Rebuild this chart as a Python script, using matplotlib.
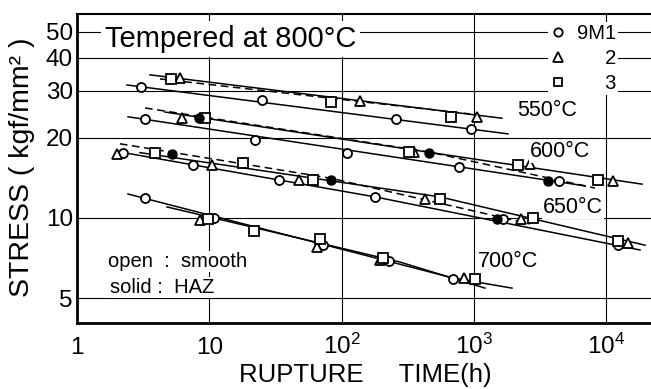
import matplotlib
matplotlib.use("Agg")
import matplotlib.pyplot as plt
from matplotlib.ticker import NullLocator

plt.rcParams['font.family'] = ['Liberation Sans', 'DejaVu Sans']
plt.rcParams['mathtext.fontset'] = 'custom'
plt.rcParams['mathtext.rm'] = 'Liberation Sans'
plt.rcParams['mathtext.it'] = 'Liberation Sans:italic'
plt.rcParams['mathtext.bf'] = 'Liberation Sans:bold'

W, H = 651, 389

# rupture time (h) / stress (kgf/mm2)
T550_9M1 = [3.05, 25.0, 258, 951]
S550_9M1 = [31.1, 27.8, 23.5, 21.6]
T550_2 = [6.0, 138, 1055]
S550_2 = [33.6, 27.5, 23.9]
T550_3 = [5.1, 83, 671]
S550_3 = [33.3, 27.3, 23.9]

T600_9M1 = [3.27, 22.2, 110, 771, 4400]
S600_9M1 = [23.5, 19.6, 17.5, 15.5, 13.8]
T600_2 = [6.2, 352, 2655, 11250]
S600_2 = [23.8, 17.7, 15.9, 13.8]
T600_3 = [9.3, 323, 2155, 8670]
S600_3 = [23.8, 17.7, 15.8, 13.9]
T600_HAZ = [8.4, 458, 3630]
S600_HAZ = [23.8, 17.5, 13.8]

T650_9M1 = [2.23, 7.5, 33.6, 179, 1660, 12280]
S650_9M1 = [17.5, 15.8, 13.9, 12.0, 9.9, 7.9]
T650_2 = [2.0, 10.5, 47.6, 427, 2270, 14600]
S650_2 = [17.4, 15.8, 13.9, 11.8, 9.9, 8.05]
T650_3 = [3.9, 18.0, 60.8, 554, 2800, 12280]
S650_3 = [17.5, 16.1, 13.9, 11.8, 10.0, 8.2]
T650_HAZ = [5.2, 83, 1495]
S650_HAZ = [17.4, 13.9, 9.9]

T700_9M1 = [3.27, 10.9, 72.3, 228, 695]
S700_9M1 = [11.9, 10.0, 7.9, 6.9, 5.9]
T700_2 = [8.5, 65, 195, 842]
S700_2 = [9.8, 7.8, 6.95, 5.95]
T700_3 = [9.8, 21.8, 68.7, 206, 1020]
S700_3 = [9.9, 8.9, 8.3, 7.1, 5.9]

# drawn rupture curves (time, stress)
C550_A_T, C550_A_S = [2.39, 1810], [31.6, 20.7]
C550_B_T, C550_B_S = [3.56, 1630], [34.5, 23.7]
C550_C_T, C550_C_S = [4.24, 934], [33.3, 24.6]
C600_A_T, C600_A_S = [2.43, 6920], [24.0, 13.2]
C600_B_T, C600_B_S = [3.27, 458, 8230], [25.9, 17.7, 12.95]
C600_C_T, C600_C_S = [4.63, 352, 18650], [25.0, 18.0, 13.4]
C650_A_T, C650_A_S = [2.11, 179, 18000], [17.7, 12.0, 7.58]
C650_B_T, C650_B_S = [2.99, 554, 19650], [17.6, 12.0, 7.9]
C650_C_T, C650_C_S = [2.11, 83, 2655], [19.0, 14.1, 9.5]
C700_A_T, C700_A_S = [2.43, 695, 1940], [12.3, 5.95, 5.45]
C700_B_T, C700_B_S = [4.79, 276, 1213], [11.0, 6.83, 5.45]

X_TICKS = [1, 10, 100, 1000, 10000]
X_LABELS = ['1', '10', r'$10^2$', r'$10^3$', r'$10^4$']
Y_TICKS = [5, 10, 20, 30, 40, 50]
Y_LABELS = ['5', '10', '20', '30', '40', '50']


def fx(px):
    return px / W


def fy(py):
    return 1 - py / H


fig = plt.figure(figsize=(W / 100, H / 100), dpi=100)
ax = fig.add_axes([fx(77), fy(323), (W - 77) / W, (323 - 14) / H])
ax.set_xscale('log')
ax.set_yscale('log')
ax.set_xlim(1, 10 ** ((W - 77) / 132.3))
ax.set_ylim(4.03, 58.4)

ax.set_xticks(X_TICKS)
ax.set_xticklabels(X_LABELS)
ax.set_yticks(Y_TICKS)
ax.set_yticklabels(Y_LABELS)
ax.xaxis.set_minor_locator(NullLocator())
ax.yaxis.set_minor_locator(NullLocator())
ax.tick_params(axis='both', length=0, labelsize=17.5)
ax.tick_params(axis='y', pad=3)
ax.tick_params(axis='x', pad=22)
for lab in ax.get_xticklabels():
    lab.set_verticalalignment('baseline')
ax.grid(True, color='black', lw=0.8, zorder=0)
ax.set_axisbelow(True)

ax.spines['right'].set_visible(False)
ax.spines['left'].set_linewidth(2.0)
ax.spines['bottom'].set_linewidth(2.0)
ax.spines['top'].set_linewidth(1.5)

curves = [
    (C550_A_T, C550_A_S, '-'), (C550_B_T, C550_B_S, '-'), (C550_C_T, C550_C_S, '--'),
    (C600_A_T, C600_A_S, '-'), (C600_B_T, C600_B_S, '--'), (C600_C_T, C600_C_S, '-'),
    (C650_A_T, C650_A_S, '-'), (C650_B_T, C650_B_S, '-'), (C650_C_T, C650_C_S, '--'),
    (C700_A_T, C700_A_S, '-'), (C700_B_T, C700_B_S, '-'),
]
for t, s, ls in curves:
    if ls == '--':
        ax.plot(t, s, color='black', lw=1.1, linestyle=(0, (5, 3)), zorder=2)
    else:
        ax.plot(t, s, color='black', lw=1.1, zorder=2)

open_sets = [
    (T550_9M1, S550_9M1, 'o'), (T550_2, S550_2, '^'), (T550_3, S550_3, 's'),
    (T600_9M1, S600_9M1, 'o'), (T600_2, S600_2, '^'), (T600_3, S600_3, 's'),
    (T650_9M1, S650_9M1, 'o'), (T650_2, S650_2, '^'), (T650_3, S650_3, 's'),
    (T700_9M1, S700_9M1, 'o'), (T700_2, S700_2, '^'), (T700_3, S700_3, 's'),
]
for t, s, m in open_sets:
    ax.plot(t, s, linestyle='none', marker=m, ms=6.5, mfc='white', mec='black',
            mew=1.3, zorder=3)
for t, s in [(T600_HAZ, S600_HAZ), (T650_HAZ, S650_HAZ)]:
    ax.plot(t, s, linestyle='none', marker='o', ms=6.5, mfc='black', mec='black',
            zorder=3)

# legend
h1, = ax.plot([], [], linestyle='none', marker='o', ms=6, mfc='white', mec='black', mew=1.3)
h2, = ax.plot([], [], linestyle='none', marker='^', ms=6.5, mfc='white', mec='black', mew=1.3)
h3, = ax.plot([], [], linestyle='none', marker='s', ms=6, mfc='white', mec='black', mew=1.3)
leg = ax.legend([h1, h2, h3], ['9M1', '     2', '     3'], loc='upper right',
                bbox_to_anchor=(fx(618), fy(22)), bbox_transform=fig.transFigure,
                fontsize=14.5, frameon=True, fancybox=False, edgecolor='none',
                facecolor='white', framealpha=1, borderpad=0.1, borderaxespad=0,
                handlelength=0.8, handletextpad=0.5, labelspacing=0.3)
leg.set_zorder(5)

white = dict(facecolor='white', edgecolor='none', pad=1)
fig.text(fx(105), fy(47), 'Tempered at 800°C', fontsize=21, va='baseline',
         ha='left', bbox=dict(facecolor='white', edgecolor='none', pad=3))
fig.text(fx(517), fy(116), '550°C', fontsize=15.5, va='baseline', bbox=white)
fig.text(fx(530), fy(157), '600°C', fontsize=15.5, va='baseline', bbox=white)
fig.text(fx(543), fy(213), '650°C', fontsize=15.5, va='baseline', bbox=white)
fig.text(fx(478), fy(267), '700°C', fontsize=15.5, va='baseline', bbox=white)
fig.text(fx(108), fy(267), 'open  :  smooth', fontsize=14.5, va='baseline', bbox=white)
fig.text(fx(110), fy(293), 'solid :  HAZ', fontsize=14.5, va='baseline', bbox=white)

fig.text(fx(22), fy(167), 'STRESS ( kgf/mm² )', fontsize=20.5, rotation=90,
         ha='center', va='center')
fig.text(fx(365), fy(382), 'RUPTURE     TIME(h)', fontsize=18.5, ha='center',
         va='baseline')

fig.savefig('out.png', dpi=100)
